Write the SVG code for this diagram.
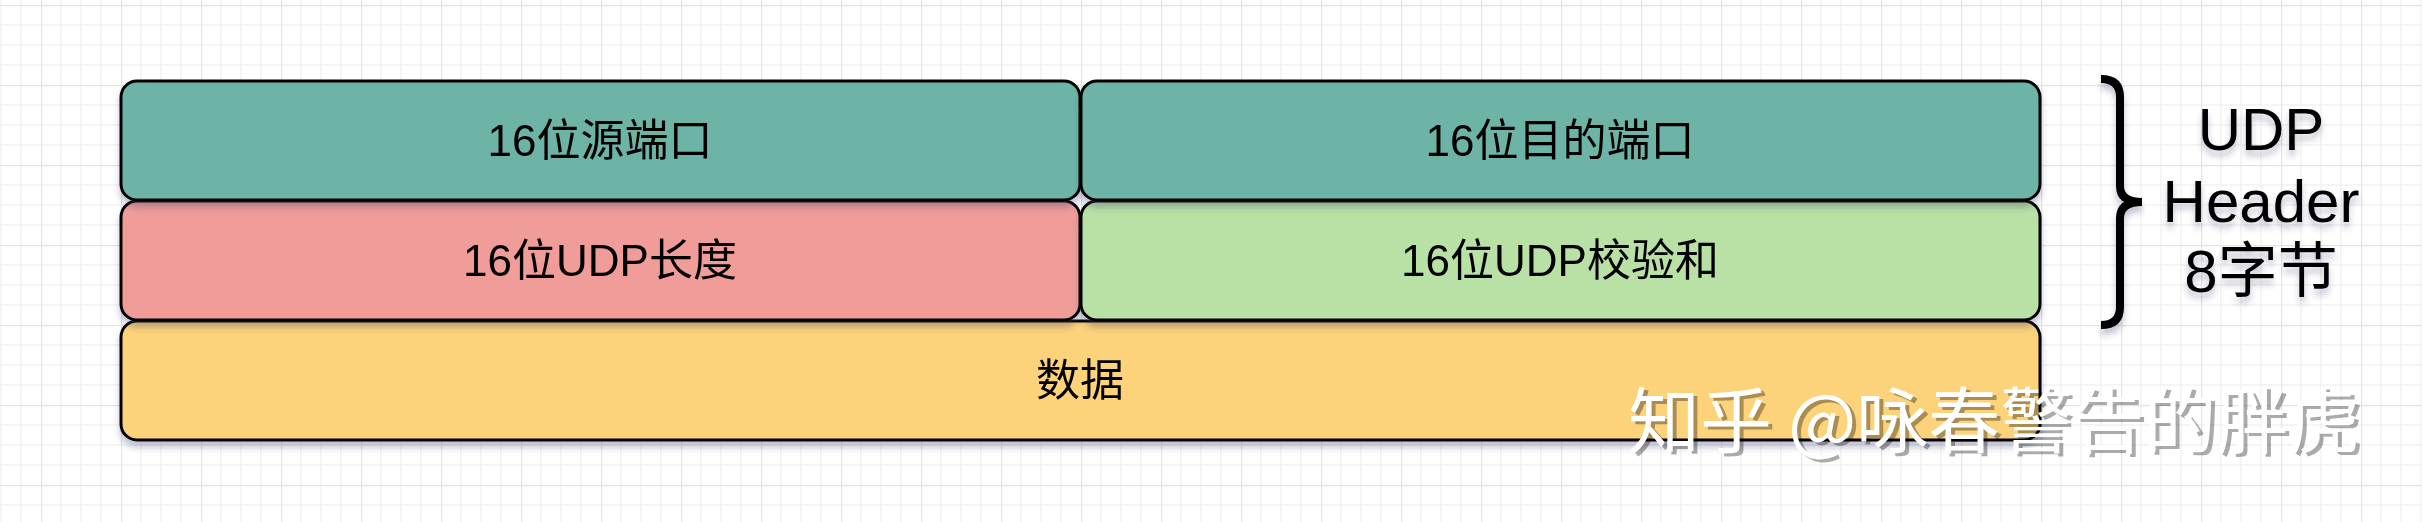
<svg xmlns="http://www.w3.org/2000/svg" width="2422" height="522" viewBox="0 0 2422 522">
<style>
.box{stroke:#000;stroke-width:3}
.lbl{font-family:"Liberation Sans","Noto Sans CJK SC",sans-serif;font-size:44px;fill:#000;text-anchor:middle}
.side{font-family:"Liberation Sans","Noto Sans CJK SC",sans-serif;font-size:60px;fill:#000;text-anchor:middle}
.wm{font-family:"Noto Sans CJK SC",sans-serif;font-size:72px}
</style>
<defs>
<pattern id="grid" x="41" y="5" width="80" height="80" patternUnits="userSpaceOnUse">
<path d="M20,0V80M40,0V80M60,0V80M0,20H80M0,40H80M0,60H80" stroke="#f1f3f1" stroke-width="1.5" fill="none"/>
<path d="M0.5,0V80M0,0.5H80" stroke="#dfe7df" stroke-width="1.5" fill="none"/>
</pattern>
<filter id="sh" x="-5%" y="-20%" width="110%" height="150%">
<feDropShadow dx="0" dy="6" stdDeviation="3" flood-color="#3a3a6a" flood-opacity="0.3"/>
</filter>
</defs>
<rect width="2422" height="522" fill="#fff"/>
<rect width="2422" height="522" fill="url(#grid)"/>
<g id="data" filter="url(#sh)">
<rect class="box" x="121" y="321" width="1919" height="119" rx="16" fill="#fcd27a"/>
<text class="lbl" x="1080" y="396">数据</text>
</g>
<g id="len" filter="url(#sh)">
<rect class="box" x="121" y="201" width="959" height="119" rx="16" fill="#f09c98"/>
<text class="lbl" x="600" y="276">16位UDP长度</text>
</g>
<g id="chk" filter="url(#sh)">
<rect class="box" x="1081" y="201" width="959" height="119" rx="16" fill="#b9e0a5"/>
<text class="lbl" x="1560" y="276">16位UDP校验和</text>
</g>
<g id="src" filter="url(#sh)">
<rect class="box" x="121" y="81" width="959" height="119" rx="16" fill="#6db4a7"/>
<text class="lbl" x="600" y="156">16位源端口</text>
</g>
<g id="dst" filter="url(#sh)">
<rect class="box" x="1081" y="81" width="959" height="119" rx="16" fill="#6db4a7"/>
<text class="lbl" x="1560" y="156">16位目的端口</text>
</g>
<g id="brace" filter="url(#sh)">
<path d="M2101,79 Q2120,79 2120,97 L2120,186 Q2120,202 2142,202 Q2120,202 2120,218 L2120,307 Q2120,325 2101,325" fill="none" stroke="#000" stroke-width="8"/>
</g>
<g id="header-label" filter="url(#sh)">
<text class="side" x="2261" y="150">UDP</text>
<text class="side" x="2261" y="222">Header</text>
<text class="side" x="2261" y="292">8字节</text>
</g>
<g id="watermark">
<text class="wm" x="1632" y="450" fill="#000" fill-opacity="0.33">知乎 @咏春警告的胖虎</text>
<text class="wm" x="1628" y="447" fill="#fff">知乎 @咏春警告的胖虎</text>
</g>
</svg>
